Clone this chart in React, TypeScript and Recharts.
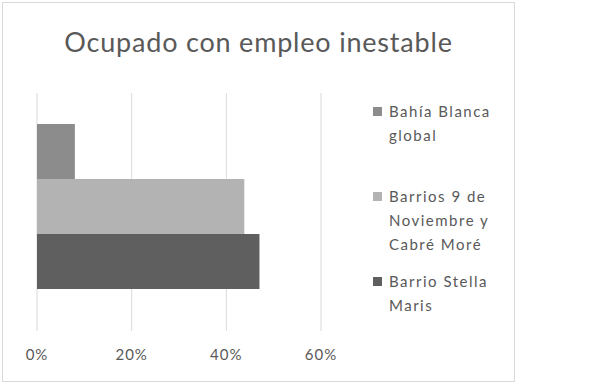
import { BarChart, Bar, XAxis, YAxis, CartesianGrid } from "recharts";

const categories = ["Ocupado con empleo inestable"];
const seriesNames = ["Bahía Blanca global", "Barrios 9 de Noviembre y Cabré Moré", "Barrio Stella Maris"];
const seriesKeys = ["bahia", "barrios", "stella"];
const bahiaValues = [8.0];
const barriosValues = [43.8];
const stellaValues = [47.0];
const xTicks = [0, 20, 40, 60];

const colors = ["#8c8c8c", "#b3b3b3", "#5f5f5f"];
const textColor = "#595959";
const font = "Lato, 'Open Sans', sans-serif";

const data = categories.map((c, i) => ({
  cat: c,
  bahia: bahiaValues[i],
  barrios: barriosValues[i],
  stella: stellaValues[i],
}));

export default function App() {
  return (
    <div style={{ position: "absolute", left: 0, top: 0, width: 592, height: 382, background: "#fff" }}>
      <div
        style={{
          position: "absolute",
          left: 2,
          top: 2,
          width: 511,
          height: 378,
          border: "1px solid #d9d9d9",
        }}
      />
      <div
        style={{
          position: "absolute",
          left: 2,
          top: 25,
          width: 513,
          textAlign: "center",
          fontFamily: font,
          fontSize: 27,
          letterSpacing: 0.8,
          lineHeight: "34px",
          color: textColor,
        }}
      >
        Ocupado con empleo inestable
      </div>
      {/* legend */}
      <div style={{ position: "absolute", left: 373, top: 99, fontFamily: font }}>
        {seriesNames.map((name, i) => (
          <div key={name} style={{ height: 85, display: "flex", alignItems: "flex-start" }}>
            <div
              style={{
                width: 9,
                height: 9,
                background: colors[i],
                marginTop: 8,
                marginRight: 7,
                flexShrink: 0,
              }}
            />
            <div
              style={{
                width: 122,
                fontSize: 15,
                letterSpacing: 1.5,
                lineHeight: "24px",
                color: textColor,
              }}
            >
              {name}
            </div>
          </div>
        ))}
      </div>
      <div style={{ position: "absolute", left: 0, top: 0 }}>
        <BarChart
          width={592}
          height={382}
          data={data}
          layout="vertical"
          margin={{ top: 93, right: 271, bottom: 0, left: 37 }}
          barCategoryGap={31}
          barGap={0}
        >
          <CartesianGrid horizontal={false} stroke="#d9d9d9" strokeWidth={1} />
          <XAxis
            type="number"
            domain={[0, 60]}
            ticks={xTicks}
            tickFormatter={(v) => `${v}%`}
            axisLine={false}
            tickLine={false}
            tickSize={0}
            tickMargin={18}
            height={51}
            tick={{ fill: textColor, fontSize: 15, fontFamily: font, letterSpacing: 1 }}
            interval={0}
          />
          <YAxis type="category" dataKey="cat" hide padding={{ top: 0, bottom: 11 }} />
          {seriesKeys.map((k, i) => (
            <Bar key={k} dataKey={k} name={seriesNames[i]} fill={colors[i]} isAnimationActive={false} />
          ))}
        </BarChart>
      </div>
    </div>
  );
}
